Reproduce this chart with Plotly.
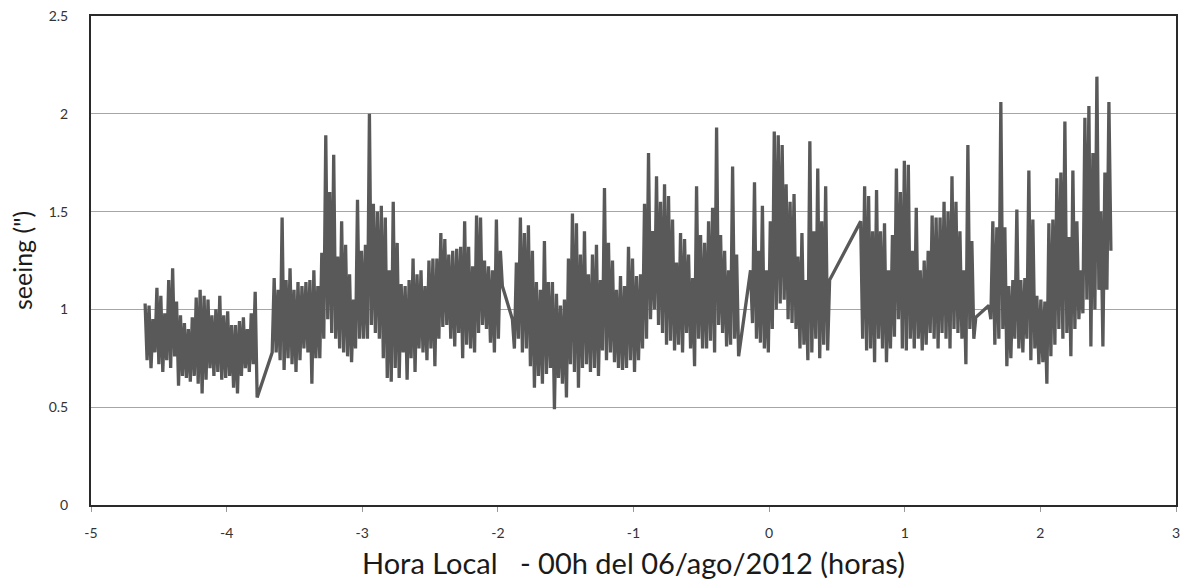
import numpy as np
import plotly.graph_objects as go

# Segment time limits (hours relative to 00h 06/ago/2012)
seg_start = [-4.601, -3.664, -1.893, -0.137, 0.675, 1.620]
seg_end = [-3.775, -1.967, -0.225, 0.446, 1.524, 2.520]

# Seeing values (arcsec) read along each segment, in order
seg_a = [1.03, 0.74, 1.02, 0.70, 0.95, 0.78, 1.11, 0.72, 1.07, 0.68, 0.98, 0.74, 1.15, 0.70,
         1.21, 0.76, 1.04, 0.61, 0.97, 0.66, 0.93, 0.65, 0.90, 0.63, 0.96, 0.66, 1.06, 0.62,
         1.10, 0.57, 1.07, 0.64, 1.05, 0.70, 0.97, 0.66, 1.00, 0.68, 1.07, 0.64, 0.97, 0.65,
         0.99, 0.66, 0.92, 0.60, 0.92, 0.57, 0.94, 0.66, 0.96, 0.70, 0.90, 0.68, 0.98, 0.72,
         1.09, 0.55]
seg_b = [0.78, 1.16, 0.78, 1.10, 0.74, 1.47, 0.69, 1.15, 0.75, 1.21, 0.72, 1.10, 0.68, 1.14,
         0.74, 1.12, 0.80, 1.14, 0.78, 1.15, 0.62, 1.20, 0.75, 1.12, 0.75, 1.29, 0.85, 1.89,
         0.95, 1.60, 0.88, 1.79, 0.85, 1.27, 0.80, 1.45, 0.78, 1.33, 0.76, 1.18, 0.73, 1.05,
         0.80, 1.56, 0.85, 1.30, 0.85, 1.33, 0.85, 2.00, 0.92, 1.54, 0.88, 1.50, 0.85, 1.53,
         0.75, 1.47, 0.65, 1.20, 0.63, 1.55, 0.70, 1.34, 0.65, 1.13, 0.78, 1.12, 0.64, 1.15,
         0.75, 1.26, 0.68, 1.18, 0.80, 1.20, 0.78, 1.12, 0.74, 1.25, 0.80, 1.26, 0.71, 1.26,
         0.85, 1.39, 0.91, 1.36, 0.92, 1.28, 0.85, 1.30, 0.81, 1.31, 0.88, 1.32, 0.75, 1.45,
         0.82, 1.32, 0.80, 1.22, 0.78, 1.48, 0.88, 1.47, 0.92, 1.25, 0.90, 1.22, 0.83, 1.20,
         0.78, 1.46, 0.85, 1.30, 1.12]
seg_c = [0.95, 0.80, 1.24, 0.85, 1.47, 0.78, 1.39, 0.80, 1.43, 0.71, 1.30, 0.60, 1.14, 0.66,
         1.10, 0.62, 1.35, 0.67, 1.14, 0.70, 1.14, 0.49, 1.08, 0.65, 1.02, 0.62, 1.05, 0.55,
         1.26, 0.72, 1.49, 0.68, 1.44, 0.60, 1.28, 0.70, 1.40, 0.72, 1.18, 0.68, 1.28, 0.70,
         1.33, 0.66, 1.15, 0.79, 1.62, 0.74, 1.34, 0.78, 1.25, 0.73, 1.10, 0.70, 1.17, 0.69,
         1.12, 0.70, 1.32, 0.74, 1.26, 0.68, 1.17, 0.74, 1.18, 0.80, 1.54, 0.85, 1.80, 0.95,
         1.40, 1.00, 1.68, 0.92, 1.55, 0.88, 1.64, 0.82, 1.58, 0.84, 1.46, 0.79, 1.24, 0.82,
         1.39, 0.78, 1.36, 0.88, 1.28, 0.80, 1.16, 0.71, 1.63, 0.85, 1.38, 0.80, 1.34, 0.80,
         1.45, 0.84, 1.52, 0.78, 1.93, 0.92, 1.38, 0.88, 1.30, 0.81, 1.20, 0.82, 1.73, 0.85,
         1.28, 0.76]
seg_d = [1.20, 0.93, 1.65, 0.85, 1.30, 0.83, 1.53, 0.80, 1.20, 0.78, 1.45, 0.90, 1.91, 1.00,
         1.89, 1.03, 1.84, 1.05, 1.64, 0.95, 1.55, 0.93, 1.59, 0.90, 1.27, 0.80, 1.39, 0.82,
         1.15, 0.74, 1.86, 0.78, 1.40, 0.85, 1.72, 0.75, 1.45, 0.82, 1.63, 0.79, 1.15]
seg_e = [1.45, 0.85, 1.63, 0.79, 1.58, 0.80, 1.40, 0.73, 1.61, 0.85, 1.40, 0.80, 1.44, 0.73,
         1.20, 0.80, 1.38, 0.86, 1.72, 0.95, 1.60, 0.80, 1.76, 0.79, 1.74, 0.85, 1.30, 0.80,
         1.52, 0.85, 1.20, 0.79, 1.25, 0.82, 1.30, 0.88, 1.48, 0.85, 1.47, 0.80, 1.47, 0.88,
         1.55, 0.85, 1.50, 0.80, 1.68, 0.90, 1.55, 0.88, 1.40, 0.85, 1.20, 0.72, 1.84, 0.90,
         1.35, 0.85, 0.96]
seg_f = [1.02, 0.95, 1.45, 0.82, 1.42, 0.85, 2.06, 0.90, 1.42, 0.71, 1.12, 0.75, 1.15, 0.85,
         1.51, 0.80, 1.15, 0.78, 1.16, 0.85, 1.71, 0.74, 1.46, 0.80, 1.07, 0.72, 1.05, 0.73,
         1.04, 0.62, 1.44, 0.76, 1.46, 0.82, 1.67, 0.90, 1.70, 0.85, 1.96, 0.88, 1.37, 0.76,
         1.71, 0.90, 1.45, 0.95, 1.20, 0.98, 1.98, 1.05, 2.04, 0.81, 1.80, 1.00, 2.19, 1.10,
         1.50, 0.81, 1.70, 1.10, 2.06, 1.30]

segments = [seg_a, seg_b, seg_c, seg_d, seg_e, seg_f]

x_ticks = [-5, -4, -3, -2, -1, 0, 1, 2, 3]
y_ticks = [0, 0.5, 1, 1.5, 2, 2.5]
y_tick_text = ["0", "0.5", "1", "1.5", "2", "2.5"]

xs, ys = [], []
for t0, t1, vals in zip(seg_start, seg_end, segments):
    xs.extend(np.linspace(t0, t1, len(vals)).tolist())
    ys.extend(vals)

fig = go.Figure()
fig.add_trace(go.Scatter(x=xs, y=ys, mode="lines",
                         line=dict(color="#595959", width=3.3, simplify=False),
                         showlegend=False))

font_family = "Lato, 'Open Sans', sans-serif"
fig.update_layout(
    width=1182, height=584,
    margin=dict(l=91, r=6, t=16, b=79),
    paper_bgcolor="white", plot_bgcolor="white",
    font=dict(family=font_family, color="#333333"),
)
fig.update_xaxes(
    range=[-5, 3], tickvals=x_ticks, ticktext=[str(v) for v in x_ticks],
    ticks="outside", ticklen=5, tickcolor="#999999", tickwidth=1,
    tickfont=dict(size=14, color="#333333"), ticklabelstandoff=9,
    ticklabeloverflow="allow",
    showgrid=False, zeroline=False, automargin=False,
    showline=True, linecolor="#2a2a2a", linewidth=2, mirror=True,
    title=dict(text="Hora Local   - 00h del 06/ago/2012 (horas)",
               font=dict(size=29, color="#1a1a1a"), standoff=14),
)
fig.update_yaxes(
    range=[0, 2.5], tickvals=y_ticks, ticktext=y_tick_text,
    ticks="", tickfont=dict(size=14, color="#333333"), ticklabelstandoff=18,
    ticklabeloverflow="allow",
    showgrid=True, gridcolor="#a6a6a6", gridwidth=1, zeroline=False, automargin=False,
    showline=True, linecolor="#2a2a2a", linewidth=2, mirror=True,
    title=dict(text='seeing (")', font=dict(size=25, color="#1a1a1a"), standoff=9),
)

# remove the page's default body margin so the figure fills the window exactly
fig.write_html("out.html",
               config={"displayModeBar": False},
               post_script="document.body.style.margin='0';"
                           "document.body.style.overflow='hidden';")
